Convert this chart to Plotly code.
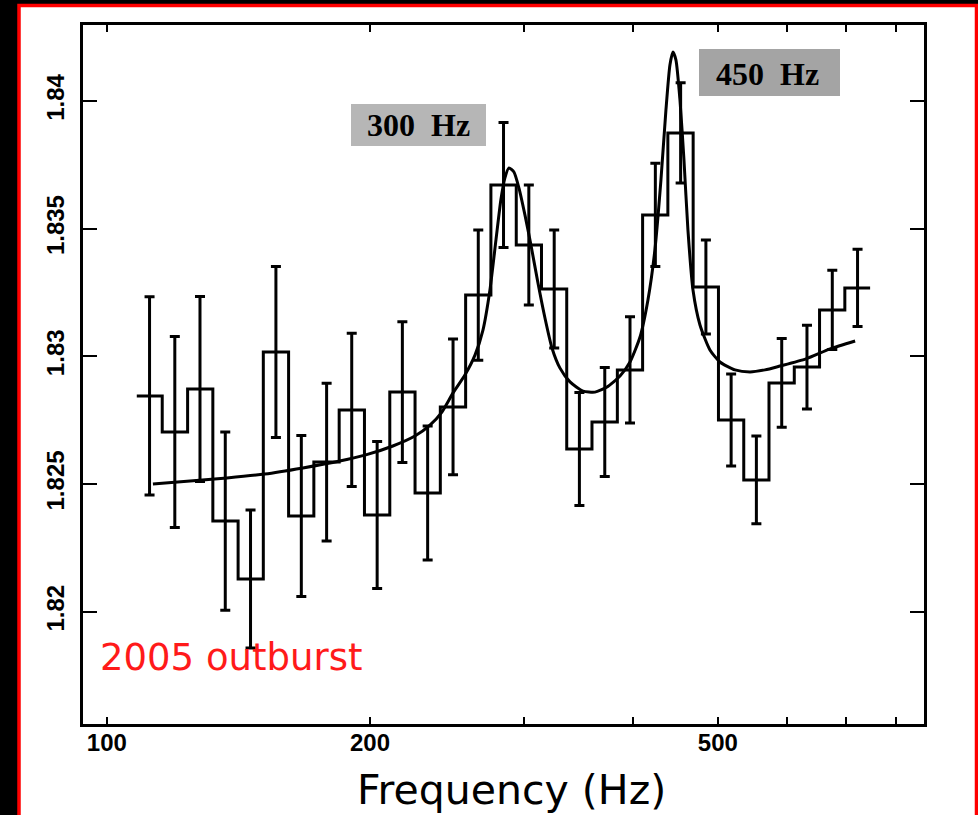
import plotly.graph_objects as go

# ---------------- data ----------------
bin_edges_hz = [108.2, 115.7, 123.7, 132.2, 141.3, 151.0, 161.4, 172.5, 184.4, 197.1,
                210.7, 225.2, 240.7, 257.3, 275.0, 294.0, 314.2, 335.8, 358.9, 383.7,
                410.1, 438.3, 468.5, 500.8, 535.3, 572.1, 611.5, 653.6, 698.6, 746.7]
bin_centers_hz = [111.9, 119.6, 127.8, 136.6, 146.0, 156.1, 166.9, 178.4, 190.6, 203.8,
                  217.8, 232.8, 248.9, 266.0, 284.3, 303.9, 324.9, 347.2, 371.2, 396.7,
                  424.1, 453.3, 484.5, 517.8, 553.4, 591.6, 632.3, 675.9, 722.4]
ratio_values = [1.82845, 1.82704, 1.82872, 1.82355, 1.82128, 1.83017, 1.82375, 1.82586,
                1.82790, 1.82379, 1.82860, 1.82465, 1.82802, 1.83240, 1.83671, 1.83436,
                1.83264, 1.82637, 1.82743, 1.82947, 1.83554, 1.83875, 1.83272, 1.82751,
                1.82516, 1.82896, 1.82958, 1.83182, 1.83268]
ratio_errors = [0.00388, 0.00374, 0.00362, 0.00349, 0.00270, 0.00335, 0.00315, 0.00309,
                0.00300, 0.00288, 0.00276, 0.00262, 0.00266, 0.00255, 0.00245, 0.00235,
                0.00231, 0.00221, 0.00213, 0.00208, 0.00202, 0.00196, 0.00184, 0.00180,
                0.00172, 0.00174, 0.00164, 0.00155, 0.00151]

fit_freq_hz = [112.9, 124.5, 137.2, 151.6, 167.6, 184.7, 197.8, 212.4, 225.1, 234.2,
               241.7, 248.9, 256.8, 263.7, 269.3, 274.3, 278.7, 282.3, 285.3, 288.4,
               292.2, 296.1, 300.8, 305.6, 311.3, 317.1, 323.0, 329.9, 338.7, 350.5,
               361.7, 373.4, 386.4, 396.7, 407.3, 415.9, 423.6, 430.4, 436.1, 440.7,
               444.2, 447.7, 452.5, 457.3, 462.1, 468.3, 477.0, 489.7, 502.8, 523.1,
               544.2, 566.2, 588.8, 630.6, 672.0, 717.8]
fit_ratio = [1.82500, 1.82512, 1.82524, 1.82539, 1.82563, 1.82590, 1.82614, 1.82649,
             1.82688, 1.82731, 1.82782, 1.82857, 1.82927, 1.83005, 1.83103, 1.83260,
             1.83456, 1.83612, 1.83698, 1.83738, 1.83722, 1.83659, 1.83554, 1.83436,
             1.83287, 1.83150, 1.83033, 1.82954, 1.82900, 1.82864, 1.82860, 1.82880,
             1.82923, 1.82978, 1.83076, 1.83221, 1.83417, 1.83691, 1.83965, 1.84141,
             1.84192, 1.84161, 1.84004, 1.83769, 1.83495, 1.83260, 1.83123, 1.83025,
             1.82978, 1.82947, 1.82939, 1.82947, 1.82962, 1.82990, 1.83029, 1.83060]

x_tick_vals = [100, 200, 300, 400, 500, 600, 700, 800]
x_tick_text = ["100", "200", "", "", "500", "", "", ""]
y_tick_vals = [1.82, 1.825, 1.83, 1.835, 1.84]
y_tick_text = ["1.82", "1.825", "1.83", "1.835", "1.84"]

peak_labels = ["300  Hz", "450  Hz"]
panel_label = "2005 outburst"
x_title = "Frequency (Hz)"

# ---------------- layout helpers (pixel -> paper) ----------------
W, H = 978, 815
L, R, T, B = 83, 924, 25, 724


def px(x):
    return (x - L) / (R - L)


def py(y):
    return (B - y) / (B - T)


fig = go.Figure()

# stepped histogram
fig.add_trace(go.Scatter(
    x=bin_edges_hz, y=ratio_values + [ratio_values[-1]],
    mode="lines", line=dict(color="black", width=3, shape="hv"),
    showlegend=False, hoverinfo="skip"))

# error bars
fig.add_trace(go.Scatter(
    x=bin_centers_hz, y=ratio_values, mode="markers",
    marker=dict(size=1, color="rgba(0,0,0,0)"),
    error_y=dict(type="data", array=ratio_errors, visible=True,
                 color="black", thickness=3, width=5),
    showlegend=False))

# fit curve
fig.add_trace(go.Scatter(
    x=fit_freq_hz, y=fit_ratio, mode="lines",
    line=dict(color="black", width=3, shape="spline", smoothing=0.6),
    showlegend=False, hoverinfo="skip"))

tick_font = dict(family="Liberation Sans", size=24, color="black", weight="bold")

fig.update_xaxes(
    type="log", range=[1.9727, 2.9348],
    tickmode="array", tickvals=x_tick_vals, ticktext=x_tick_text,
    ticks="inside", ticklen=7, tickwidth=2, tickcolor="black",
    showline=True, linecolor="black", linewidth=3, mirror="ticks",
    showgrid=False, zeroline=False, tickfont=tick_font, ticklabelstandoff=-5)

fig.update_yaxes(
    range=[1.815603, 1.842976],
    tickmode="array", tickvals=y_tick_vals, ticktext=y_tick_text,
    ticks="inside", ticklen=14, tickwidth=2, tickcolor="black",
    showline=True, linecolor="black", linewidth=3, mirror="ticks",
    showgrid=False, zeroline=False, tickfont=tick_font, tickangle=-90,
    ticklabelstandoff=6)

shapes = [
    dict(type="rect", xref="paper", yref="paper",
         x0=px(19), x1=px(976.5), y0=py(840), y1=py(5.5),
         line=dict(color="#ff0000", width=3.5), fillcolor="white", layer="below"),
    dict(type="rect", xref="paper", yref="paper",
         x0=px(351), x1=px(486), y0=py(146), y1=py(104),
         line=dict(width=0), fillcolor="#b6b6b6", layer="above"),
    dict(type="rect", xref="paper", yref="paper",
         x0=px(699), x1=px(840), y0=py(96), y1=py(49),
         line=dict(width=0), fillcolor="#a4a4a4", layer="above"),
]

annotations = [
    dict(text=peak_labels[0], xref="paper", yref="paper", x=px(418.5), y=py(125),
         xanchor="center", yanchor="middle", showarrow=False,
         font=dict(family="Liberation Serif", size=32, color="black", weight="bold")),
    dict(text=peak_labels[1], xref="paper", yref="paper", x=px(767), y=py(74),
         xanchor="center", yanchor="middle", showarrow=False,
         font=dict(family="Liberation Serif", size=32, color="black", weight="bold")),
    dict(text=panel_label, xref="paper", yref="paper", x=px(98), y=py(657),
         xanchor="left", yanchor="middle", showarrow=False,
         font=dict(family="DejaVu Sans", size=37, color="#ff1a1a")),
    dict(text=x_title, xref="paper", yref="paper", x=px(511), y=py(790),
         xanchor="center", yanchor="middle", showarrow=False,
         font=dict(family="DejaVu Sans", size=41, color="black")),
]

fig.update_layout(
    width=W, height=H,
    margin=dict(l=L, r=W - R, t=T, b=H - B, pad=0),
    paper_bgcolor="black", plot_bgcolor="white",
    shapes=shapes, annotations=annotations,
    showlegend=False)

fig.write_html(
    "out.html",
    config={"displayModeBar": False},
    post_script="document.body.style.margin='0';"
                "document.body.style.overflow='hidden';"
                "document.body.style.background='black';")
